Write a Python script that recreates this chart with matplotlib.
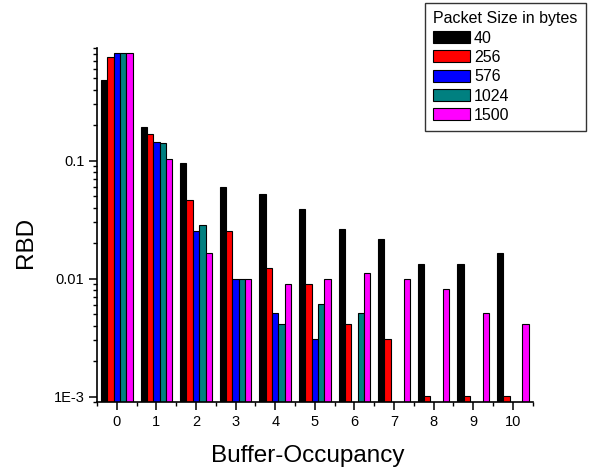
import numpy as np
import matplotlib
matplotlib.use("Agg")
import matplotlib.pyplot as plt
from matplotlib.ticker import LogLocator, NullFormatter, FixedLocator

plt.rcParams['font.family'] = ['Liberation Sans', 'DejaVu Sans']

## data
occupancy = [0, 1, 2, 3, 4, 5, 6, 7, 8, 9, 10]
packet_sizes = ['40', '256', '576', '1024', '1500']
nan = np.nan
rbd_40 = [0.48, 0.193, 0.095, 0.060, 0.052, 0.0387, 0.0266, 0.0216, 0.0132, 0.0132, 0.0164]
rbd_256 = [0.75, 0.167, 0.0465, 0.0254, 0.0122, 0.0091, 0.0041, 0.0031, 0.00102, 0.00102, 0.00102]
rbd_576 = [0.82, 0.145, 0.0254, 0.010, 0.0051, 0.0031, nan, nan, nan, nan, nan]
rbd_1024 = [0.81, 0.140, 0.0283, 0.010, 0.0041, 0.0061, 0.0051, nan, nan, nan, nan]
rbd_1500 = [0.82, 0.103, 0.0164, 0.010, 0.0091, 0.0100, 0.0112, 0.0100, 0.0081, 0.0051, 0.0041]
series = [rbd_40, rbd_256, rbd_576, rbd_1024, rbd_1500]
colors = ['#000000', '#ff0000', '#0000ff', '#008080', '#ff00ff']

fig = plt.figure(figsize=(5.92, 4.71), dpi=100)
ax = fig.add_axes([97/592, 68.7/471, 435.6/592, 354.3/471])

x = np.array(occupancy)
w = 0.16
for i, (vals, c, lab) in enumerate(zip(series, colors, packet_sizes)):
    ax.bar(x + (i - 2) * w, vals, width=w, color=c, edgecolor='black',
           linewidth=0.8, label=lab)

ax.set_yscale('log')
ax.set_ylim(0.000897, 0.9)
ax.set_xlim(-0.5, 10.5)

ax.set_xticks(occupancy)
ax.set_xticklabels([str(o) for o in occupancy])
ax.xaxis.set_minor_locator(FixedLocator(np.arange(-0.5, 10.6, 1.0)))
ax.set_yticks([0.001, 0.01, 0.1])
ax.set_yticklabels(['1E-3', '0.01', '0.1'])
ax.yaxis.set_minor_locator(LogLocator(base=10, subs=np.arange(2, 10) * 1.0))
ax.yaxis.set_minor_formatter(NullFormatter())

ax.tick_params(axis='both', which='major', labelsize=10.5, length=5.5, width=1.1,
               direction='out', colors='black')
ax.tick_params(axis='both', which='minor', length=3, width=1.0, direction='out')

for s in ['top', 'right']:
    ax.spines[s].set_visible(False)
for s in ['left', 'bottom']:
    ax.spines[s].set_linewidth(1.2)

fig.text(26/592, 1 - 242.5/471, 'RBD', rotation=90, ha='center', va='center', fontsize=17.5)
fig.text(308/592, 1 - 456/471, 'Buffer-Occupancy', ha='center', va='center', fontsize=17.5)

leg = ax.legend(title='Packet Size in bytes', loc='upper right',
                bbox_to_anchor=(585.7/592, 1 - 3.3/471), bbox_transform=fig.transFigure,
                fancybox=False, frameon=True, edgecolor='black', fontsize=11.5,
                title_fontsize=11.5, alignment='left', handlelength=2.3,
                handleheight=0.75, labelspacing=0.27, handletextpad=0.25,
                borderpad=0.5, borderaxespad=0)
leg.get_frame().set_linewidth(1.0)

fig.savefig('out.png', dpi=100)
